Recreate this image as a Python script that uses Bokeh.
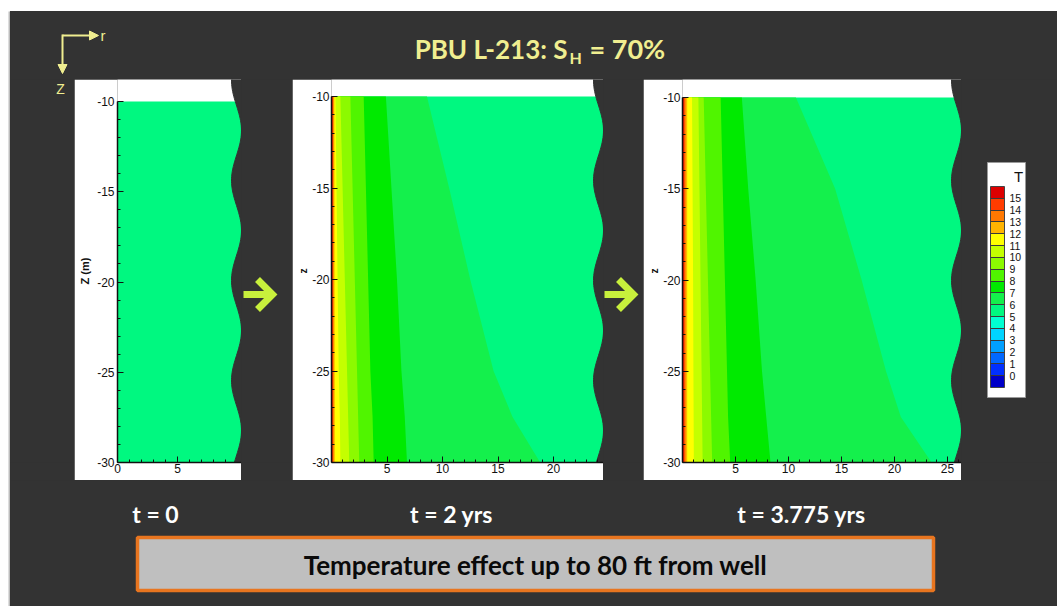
import numpy as np
from bokeh.plotting import figure
from bokeh.layouts import row, column
from bokeh.models import (Range1d, FixedTicker, LinearColorMapper, ColorBar,
                          Arrow, NormalHead, AllLabels)
from bokeh.core.properties import value
from bokeh.embed import file_html
from bokeh.resources import INLINE

# ---------------- data ----------------
TITLE_MAIN = "PBU L-213: S"
TITLE_SUB = "H"
TITLE_TAIL = "= 70%"
TIME_LABELS = ["t = 0", "t = 2 yrs", "t = 3.775 yrs"]
NOTE = "Temperature effect up to 80 ft from well"

# colour scale: one colour per 1-degree bin, from below 0 up to above 15
T_TICKS = list(range(0, 16))
T_BIN_COLORS = [
    "#0000c8",  # < 0
    "#0030ff",  # 0-1
    "#0068ff",  # 1-2
    "#00a0ff",  # 2-3
    "#00d4ff",  # 3-4
    "#00ffd2",  # 4-5
    "#00f880",  # 5-6
    "#14f04c",  # 6-7
    "#00ea00",  # 7-8
    "#50f500",  # 8-9
    "#8cfa00",  # 9-10
    "#c4ff00",  # 10-11
    "#ffff00",  # 11-12
    "#ffb400",  # 12-13
    "#ff7800",  # 13-14
    "#ff3c00",  # 14-15
    "#dc0000",  # > 15
]

T_INITIAL = 5.6          # formation temperature at t = 0
R_EXTENT = 40.0          # radial extent of the model (m)
DEPTH = [-10, -15, -20, -25, -27.5, -30]
Z_TICKS = [-30, -25, -20, -15, -10]
ISO_T = [6, 7, 8, 9, 10, 11, 12, 13, 14, 15]

# radius (m) of each isotherm in ISO_T at the depths in DEPTH
R_2YRS = [
    [8.6, 10.6, 12.5, 14.6, 16.3, 18.8],
    [4.9, 5.4, 5.9, 6.3, 6.6, 6.8],
    [2.9, 3.1, 3.3, 3.5, 3.7, 3.8],
    [1.7, 1.9, 2.1, 2.3, 2.4, 2.5],
    [0.8, 1.0, 1.2, 1.4, 1.5, 1.6],
    [0.36, 0.45, 0.55, 0.65, 0.75, 0.8],
    [0.26, 0.27, 0.28, 0.29, 0.30, 0.30],
    [0.19, 0.19, 0.20, 0.20, 0.20, 0.20],
    [0.13, 0.13, 0.13, 0.14, 0.14, 0.14],
    [0.07, 0.07, 0.07, 0.07, 0.07, 0.07],
]
R_3775YRS = [
    [10.7, 14.4, 16.9, 19.2, 20.6, 23.5],
    [5.6, 6.2, 6.9, 7.5, 7.9, 8.3],
    [3.6, 3.8, 4.0, 4.2, 4.3, 4.5],
    [2.0, 2.2, 2.4, 2.6, 2.7, 2.8],
    [1.5, 1.6, 1.7, 1.8, 1.85, 1.9],
    [0.9, 0.95, 1.0, 1.03, 1.05, 1.07],
    [0.44, 0.44, 0.44, 0.44, 0.44, 0.44],
    [0.30, 0.30, 0.30, 0.30, 0.30, 0.30],
    [0.20, 0.20, 0.20, 0.20, 0.20, 0.20],
    [0.10, 0.10, 0.10, 0.10, 0.10, 0.10],
]

# ---------------- styling ----------------
DARK = "#333333"
PALE = "#f0ee90"
ARROW_GREEN = "#c8f03c"
TICK_FONT = "Liberation Sans"
PANEL_H = 401
PANEL_BOTTOM = 18        # shared bottom border of the middle row
INNER_H = PANEL_H - PANEL_BOTTOM


def bin_color(t):
    return T_BIN_COLORS[int(np.floor(t)) + 1]


def canvas(w, h, fill=DARK, bottom=0):
    p = figure(width=w, height=h, x_range=Range1d(0, w), y_range=Range1d(h - bottom, 0),
               output_backend="svg", toolbar_location=None,
               x_axis_type=None, y_axis_type=None,
               min_border=0, min_border_left=0, min_border_right=0,
               min_border_top=0, min_border_bottom=bottom,
               background_fill_color=fill, border_fill_color=fill,
               outline_line_color=None)
    p.grid.visible = False
    return p


def panel(width, border_left, r_end, z_top, x_major, z_label, z_label_size,
          tick_standoff, label_standoff, iso_r):
    p = figure(width=width, height=PANEL_H,
               x_range=Range1d(0, r_end), y_range=Range1d(-30, z_top),
               output_backend="svg", toolbar_location=None,
               min_border_left=border_left, min_border_right=0,
               min_border_top=0, min_border_bottom=PANEL_BOTTOM,
               background_fill_color="white", border_fill_color="white",
               outline_line_color=None)
    p.grid.visible = False
    n = len(DEPTH)
    zeros = [0.0] * n

    # temperature bands, painted from the far field inwards
    if iso_r is None:
        p.harea(x1=zeros, x2=[R_EXTENT] * n, y=DEPTH,
                fill_color=bin_color(T_INITIAL))
    else:
        p.harea(x1=zeros, x2=[R_EXTENT] * n, y=DEPTH,
                fill_color=bin_color(ISO_T[0] - 1))
        for level, r in zip(ISO_T, iso_r):
            p.harea(x1=zeros, x2=r, y=DEPTH, fill_color=bin_color(level))

    # wavy break line on the right edge of the section
    frame_w = width - border_left
    px_r = frame_w / r_end
    px_z = INNER_H / (z_top + 30.0)
    ys = np.linspace(0, INNER_H + 2, 160)
    depth_in = 10.0 * (1 + np.cos(2 * np.pi * (ys - 1) / 100.0)) / 2.0
    wx = list(r_end - depth_in / px_r) + [r_end + 1, r_end + 1]
    wy = list(z_top - ys / px_z) + [-31, z_top + 1]
    p.patch(wx, wy, fill_color=DARK, line_color=DARK, line_width=1)

    xa = p.xaxis[0]
    xa.ticker = FixedTicker(ticks=x_major,
                            minor_ticks=[i for i in range(0, int(r_end) + 1) if i % 5])
    xa.bounds = (0, r_end)
    ya = p.yaxis[0]
    ya.ticker = FixedTicker(ticks=Z_TICKS,
                            minor_ticks=[i for i in range(-29, -10) if i % 5])
    ya.major_label_overrides = {z: str(z) for z in Z_TICKS}
    ya.bounds = (-30, -10)
    for ax in (xa, ya):
        ax.axis_line_color = "#111111"
        ax.axis_line_width = 1.5
        ax.major_tick_line_color = "#111111"
        ax.minor_tick_line_color = "#111111"
        ax.major_tick_in = 6
        ax.major_tick_out = 0
        ax.minor_tick_in = 3
        ax.minor_tick_out = 0
        ax.major_label_text_font = TICK_FONT
        ax.major_label_text_font_size = "12px"
        ax.major_label_text_color = "#111111"
    xa.major_label_standoff = 1
    ya.major_label_standoff = tick_standoff
    ya.axis_label = z_label
    ya.axis_label_text_font = TICK_FONT
    ya.axis_label_text_font_style = "bold"
    ya.axis_label_text_font_size = z_label_size
    ya.axis_label_text_color = "#111111"
    ya.axis_label_standoff = label_standoff
    return p


# ---------------- header ----------------
header = canvas(1047, 68)
header.add_layout(Arrow(end=NormalHead(size=9, fill_color=PALE, line_color=PALE),
                        x_start=52, y_start=24, x_end=88, y_end=24,
                        line_color=PALE, line_width=2))
header.add_layout(Arrow(end=NormalHead(size=9, fill_color=PALE, line_color=PALE),
                        x_start=52, y_start=23, x_end=52, y_end=62,
                        line_color=PALE, line_width=2))
header.text(x=[90], y=[24], text=["r"], text_color=PALE,
            text_font=value(TICK_FONT), text_font_size="15px",
            text_align="left", text_baseline="middle")
header.text(x=[557], y=[37], text=[TITLE_MAIN], text_color=PALE,
            text_font=value("Lato"), text_font_style="bold",
            text_font_size="26px", text_align="right", text_baseline="alphabetic")
header.text(x=[559], y=[46], text=[TITLE_SUB], text_color=PALE,
            text_font=value("Lato"), text_font_style="bold",
            text_font_size="16px", text_align="left", text_baseline="alphabetic")
header.text(x=[579], y=[37], text=[TITLE_TAIL], text_color=PALE,
            text_font=value("Lato"), text_font_style="bold",
            text_font_size="27px", text_align="left", text_baseline="alphabetic")

# ---------------- middle row ----------------
gap_a = canvas(64, PANEL_H, bottom=PANEL_BOTTOM)
gap_a.text(x=[50], y=[9], text=["Z"], text_color=PALE,
           text_font=value(TICK_FONT), text_font_size="14px",
           text_align="center", text_baseline="middle")


def green_arrow(p, x0, yc):
    p.line([x0, x0 + 26], [yc, yc], line_color=ARROW_GREEN, line_width=7)
    p.line([x0 + 14, x0 + 29, x0 + 14], [yc - 15, yc, yc + 15],
           line_color=ARROW_GREEN, line_width=7, line_join="miter")


gap_b = canvas(51, PANEL_H, bottom=PANEL_BOTTOM)
green_arrow(gap_b, 2, 215)
gap_c = canvas(40, PANEL_H, bottom=PANEL_BOTTOM)
green_arrow(gap_c, 1, 215)

p1 = panel(167, 43, 124 / 12.0, -10 + 22 / 18.05, [0, 5], "Z (m)", "11px", 3, 3, None)
p2 = panel(311, 39, 272 / 11.1, -10 + 17 / 18.3, [5, 10, 15, 20], "z", "10px", 2, 0, R_2YRS)
p3 = panel(318, 39, 279 / 10.6, -10 + 18 / 18.25, [5, 10, 15, 20, 25], "z", "10px", 2, 0, R_3775YRS)

legend_area = canvas(96, PANEL_H, bottom=PANEL_BOTTOM)
legend_area.quad(left=[26], right=[64], top=[83], bottom=[318],
                 fill_color="white", line_color="#9a9a9a", line_width=1)
legend_area.text(x=[57], y=[97], text=["T"], text_color="#111111",
                 text_font=value(TICK_FONT), text_font_size="15px",
                 text_align="center", text_baseline="middle")
mapper = LinearColorMapper(palette=T_BIN_COLORS, low=-1, high=16)
cbar = ColorBar(color_mapper=mapper, orientation="vertical",
                location=(29, INNER_H - 308), width=14, height=201,
                display_low=-0.5, display_high=15.5,
                ticker=FixedTicker(ticks=T_TICKS),
                major_label_policy=AllLabels(),
                padding=0, margin=0, label_standoff=5,
                major_label_text_font=TICK_FONT,
                major_label_text_font_size="10.5px",
                major_label_text_color="#111111",
                major_tick_in=14, major_tick_out=0,
                major_tick_line_color="#3a3a3a",
                bar_line_color="#444444",
                background_fill_alpha=0, border_line_color=None)
legend_area.add_layout(cbar, "center")

middle = row(gap_a, p1, gap_b, p2, gap_c, p3, legend_area)

# ---------------- footer ----------------
footer = canvas(1047, 126)
footer.text(x=[145, 441, 791], y=[33, 33, 33], text=TIME_LABELS,
            text_color="white", text_font=value("Lato"), text_font_style="bold",
            text_font_size="23px", text_align="center", text_baseline="alphabetic")
footer.quad(left=[127], right=[923], top=[57], bottom=[110],
            fill_color="#bfbfbf", line_color="#e8751f", line_width=3.5)
footer.text(x=[525], y=[84], text=[NOTE], text_color="#0a0a0a",
            text_font=value("Lato"), text_font_style="bold",
            text_font_size="26px", text_align="center", text_baseline="middle")

slide = column(header, middle, footer, styles={"background-color": DARK})

# thin frame along the top and left edges
top_line = canvas(1057, 2, fill="#bcbcbc")
left_line = canvas(2, 595, fill="#bcbcbc")
top_white = canvas(1057, 9, fill="white")
left_white = canvas(8, 595, fill="white")

page = column(top_white, top_line, row(left_white, left_line, slide))

open("out.html", "w").write(file_html(page, INLINE))
